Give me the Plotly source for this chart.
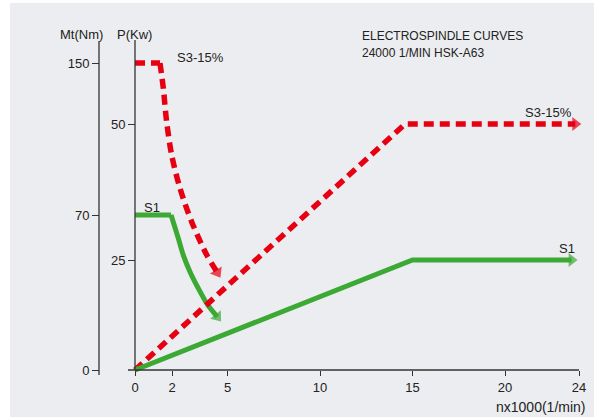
import numpy as np
import plotly.graph_objects as go

# ---------------- data ----------------
speed_ticks = [0, 2, 5, 10, 15, 20, 24]
torque_ticks = [0, 70, 150]
power_ticks = [25, 50]

# torque curves (speed in 1000 1/min, torque in Nm)
s3_torque_speed = [0, 1.35, 1.53, 1.71, 1.98, 2.43, 3.06, 3.88, 4.45]
s3_torque = [150, 150, 136.7, 119.1, 101.6, 84.1, 67.0, 51.9, 44]
s1_torque_speed = [0, 1.95, 2.34, 2.61, 2.97, 3.42, 3.93, 4.45]
s1_torque = [70, 70, 59.5, 51.9, 44.4, 36.9, 29.4, 24]

# power curves (speed in 1000 1/min, power in kW)
s3_power_speed = [0, 14.6, 23.8]
s3_power = [0, 50, 50]
s1_power_speed = [0, 15, 23.6]
s1_power = [0, 25, 25]

# ---------------- schematic axis scales (tick anchors of the drawing) ----------------
MT_ANCHOR_VAL = [0, 70, 150]
MT_ANCHOR_POS = [0, 155, 307]
P_ANCHOR_VAL = [0, 25, 50]
P_ANCHOR_POS = [0, 110, 246]


def mt_scale(v):
    return list(np.interp(v, MT_ANCHOR_VAL, MT_ANCHOR_POS))


def p_scale(v):
    return list(np.interp(v, P_ANCHOR_VAL, P_ANCHOR_POS))


W, H = 594, 417
ML, MR, MT, MB = 99, 4, 30, 37
PW, PH = W - ML - MR, H - MT - MB
X_PX0, X_PXU = 135, 18.5          # pixel of speed 0, pixels per unit
xr = [(ML - X_PX0) / X_PXU, (W - MR - X_PX0) / X_PXU]
yr = [-10, 340]


def fx(px):
    return (px - ML) / PW


def fy(py):
    return (H - MB - py) / PH


RED = "#E60012"
GREEN = "#3CA935"
TXT = "#222222"
AXC = "#333333"
BG = "#ECEDF0"
FONT = "Liberation Sans"
RED_LINE = dict(color=RED, width=5.5, dash="10px,6px")
GREEN_LINE = dict(color=GREEN, width=5)


def arrow_marker(n, color, size=12):
    return dict(symbol=["triangle-up"] * n, size=[0] * (n - 1) + [size],
                angleref="previous", color=color, line=dict(width=0))


fig = go.Figure()


def add_curve(xs, ys, line, color, yaxis="y", bend=False):
    if bend:
        # flat part straight, falling part smooth
        fig.add_trace(go.Scatter(x=xs[:2], y=ys[:2], yaxis=yaxis, mode="lines", line=line,
                                 cliponaxis=False, hoverinfo="skip"))
        fig.add_trace(go.Scatter(x=xs[1:], y=ys[1:], yaxis=yaxis, mode="lines+markers",
                                 line=dict(line, shape="spline", smoothing=0.8),
                                 marker=arrow_marker(len(xs) - 1, color),
                                 cliponaxis=False, hoverinfo="skip"))
    else:
        fig.add_trace(go.Scatter(x=xs, y=ys, yaxis=yaxis, mode="lines+markers", line=line,
                                 marker=arrow_marker(len(xs), color),
                                 cliponaxis=False, hoverinfo="skip"))


add_curve(s3_power_speed, p_scale(s3_power), RED_LINE, RED, "y2")
add_curve(s1_power_speed, p_scale(s1_power), GREEN_LINE, GREEN, "y2")
add_curve(s3_torque_speed, mt_scale(s3_torque), RED_LINE, RED, "y", bend=True)
add_curve(s1_torque_speed, mt_scale(s1_torque), GREEN_LINE, GREEN, "y", bend=True)

tickfont = dict(family=FONT, size=13, color=TXT)

fig.update_layout(
    width=W, height=H,
    margin=dict(l=ML, r=MR, t=MT, b=MB, pad=0),
    paper_bgcolor=BG, plot_bgcolor=BG,
    showlegend=False,
    font=dict(family=FONT, color=TXT),
    xaxis=dict(range=xr, tickvals=speed_ticks, ticktext=[str(v) for v in speed_ticks],
               ticks="outside", ticklen=5, tickcolor=AXC, tickwidth=1, tickfont=tickfont,
               showline=False, showgrid=False, zeroline=False,
               anchor="free", position=fy(370)),
    yaxis=dict(range=yr, tickvals=mt_scale(torque_ticks), ticktext=[str(v) for v in torque_ticks],
               ticks="outside", ticklen=7, tickcolor=AXC, tickwidth=1, tickfont=tickfont,
               showline=False, showgrid=False, zeroline=False,
               anchor="free", position=0, side="left"),
    yaxis2=dict(range=yr, tickvals=p_scale(power_ticks), ticktext=[str(v) for v in power_ticks],
                ticks="outside", ticklen=7, tickcolor=AXC, tickwidth=1, tickfont=tickfont,
                showline=False, showgrid=False, zeroline=False,
                overlaying="y", anchor="free", position=fx(X_PX0), side="left"),
)

# axis lines
fig.add_shape(type="line", xref="paper", yref="paper", x0=0, x1=0, y0=fy(375), y1=fy(41),
              line=dict(color=AXC, width=1.3))
fig.add_shape(type="line", xref="paper", yref="paper", x0=fx(X_PX0), x1=fx(X_PX0), y0=fy(370), y1=fy(40),
              line=dict(color=AXC, width=1.3))
fig.add_shape(type="line", xref="paper", yref="paper", x0=fx(128), x1=fx(X_PX0 + 24 * X_PXU),
              y0=fy(370), y1=fy(370), line=dict(color=AXC, width=1.3))

# white page strips (left and top)
fig.add_shape(type="rect", xref="paper", yref="paper", x0=fx(0), x1=fx(10), y0=fy(H), y1=fy(0),
              fillcolor="white", line=dict(width=0), layer="below")
fig.add_shape(type="rect", xref="paper", yref="paper", x0=fx(0), x1=fx(W), y0=fy(3), y1=fy(0),
              fillcolor="white", line=dict(width=0), layer="below")


def label(text, px, py, xanchor="left", size=13):
    fig.add_annotation(text=text, x=fx(px), y=fy(py), xref="paper", yref="paper",
                       xanchor=xanchor, yanchor="middle", showarrow=False,
                       font=dict(family=FONT, size=size, color=TXT))


label("Mt(Nm)", 81, 34, "center")
label("P(Kw)", 134, 34, "center")
label("nx1000(1/min)", 541, 407, "center", 14)
label("ELECTROSPINDLE CURVES", 360, 36, "left", 12)
label("24000 1/MIN HSK-A63", 360, 53, "left", 12)
label("S3-15%", 175, 58, "left")
label("S1", 142, 207, "left")
label("S3-15%", 574, 112, "right")
label("S1", 577, 249, "right")

fig.write_html("out.html", config={"displayModeBar": False},
               post_script="document.body.style.margin='0px';document.body.style.overflow='hidden';")
